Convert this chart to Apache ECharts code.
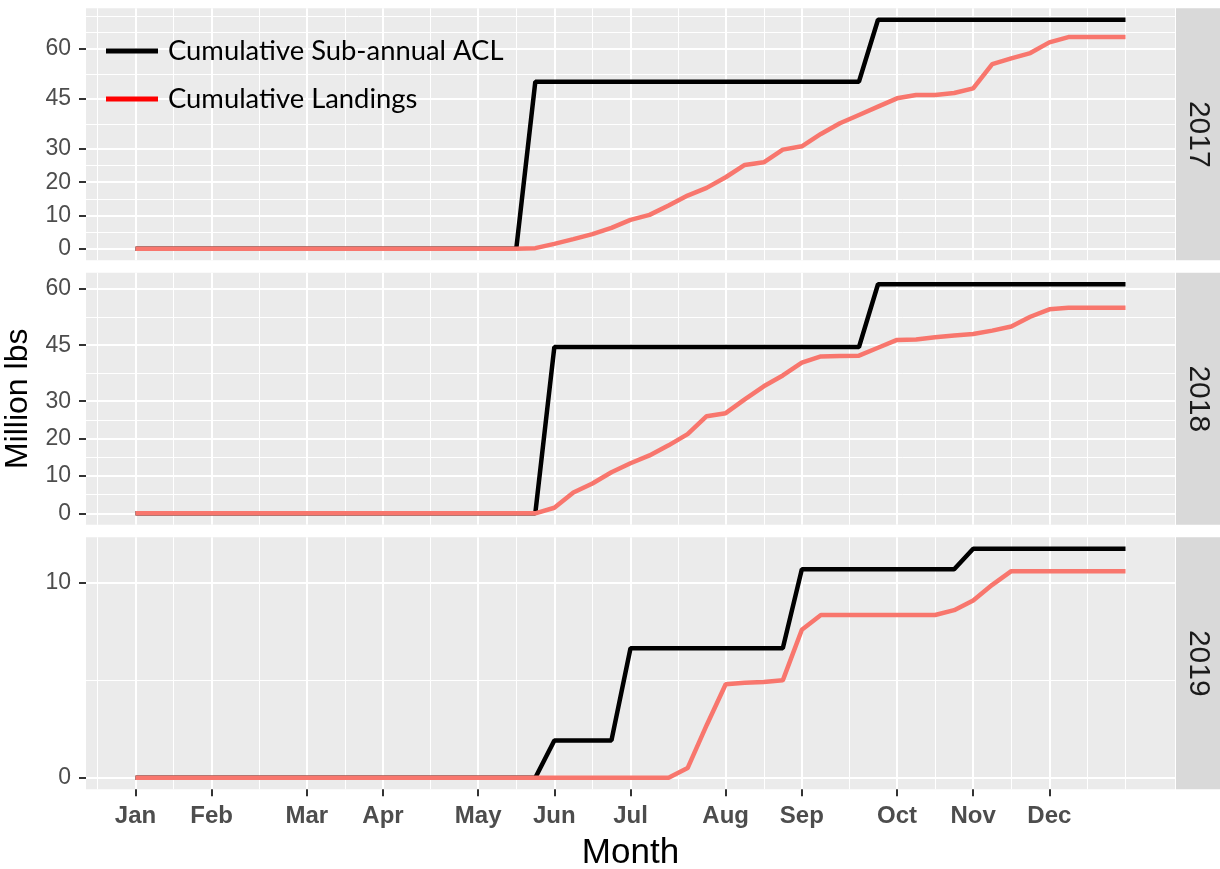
<!DOCTYPE html>
<html>
<head>
<meta charset="utf-8">
<script src="https://cdn.jsdelivr.net/npm/echarts@6/dist/echarts.min.js"></script>
<style>
html,body{margin:0;padding:0;background:#ffffff;}
#chart{width:1220px;height:869px;}
</style>
</head>
<body>
<div id="chart"></div>
<script>
// ---------------- DATA ----------------
const years = ['2017', '2018', '2019'];
const months = ['Jan','Feb','Mar','Apr','May','Jun','Jul','Aug','Sep','Oct','Nov','Dec'];
// week index (0 = first week of January) at which each month label sits
const monthWeeks = [0, 4, 9, 13, 18, 22, 26, 31, 35, 40, 44, 48];
// weekly x positions
const weeks = [0,1,2,3,4,5,6,7,8,9,10,11,12,13,14,15,16,17,18,19,20,21,22,23,24,25,26,
               27,28,29,30,31,32,33,34,35,36,37,38,39,40,41,42,43,44,45,46,47,48,49,50,51,52];

const seriesNames = ['Cumulative Sub-annual ACL', 'Cumulative Landings'];

// Million lbs, one value per week
const acl2017 = [0,0,0,0,0,0,0,0,0,0,0,0,0,0,0,0,0,0,0,0,0,
  50.2,50.2,50.2,50.2,50.2,50.2,50.2,50.2,50.2,50.2,50.2,50.2,50.2,50.2,50.2,50.2,50.2,50.2,
  68.8,68.8,68.8,68.8,68.8,68.8,68.8,68.8,68.8,68.8,68.8,68.8,68.8,68.8];
const landings2017 = [0,0,0,0,0,0,0,0,0,0,0,0,0,0,0,0,0,0,0,0,0,
  0.2,1.5,2.9,4.4,6.3,8.7,10.2,13.0,16.0,18.3,21.5,25.2,26.0,29.8,30.8,34.5,37.7,40.2,
  42.7,45.2,46.2,46.2,46.8,48.2,55.5,57.2,58.8,62.0,63.6,63.6,63.6,63.6];

const acl2018 = [0,0,0,0,0,0,0,0,0,0,0,0,0,0,0,0,0,0,0,0,0,0,
  44.5,44.5,44.5,44.5,44.5,44.5,44.5,44.5,44.5,44.5,44.5,44.5,44.5,44.5,44.5,44.5,44.5,
  61.3,61.3,61.3,61.3,61.3,61.3,61.3,61.3,61.3,61.3,61.3,61.3,61.3,61.3];
const landings2018 = [0,0,0,0,0,0,0,0,0,0,0,0,0,0,0,0,0,0,0,0,0,0,
  1.5,5.6,8.0,11.0,13.4,15.5,18.2,21.2,26.0,26.8,30.5,34.0,36.9,40.3,42.0,42.1,42.2,
  44.3,46.4,46.5,47.1,47.6,48.0,48.9,50.0,52.6,54.6,55.0,55.0,55.0,55.0];

const acl2019 = [0,0,0,0,0,0,0,0,0,0,0,0,0,0,0,0,0,0,0,0,0,0,
  1.92,1.92,1.92,1.92,
  6.65,6.65,6.65,6.65,6.65,6.65,6.65,6.65,6.65,
  10.7,10.7,10.7,10.7,10.7,10.7,10.7,10.7,10.7,
  11.75,11.75,11.75,11.75,11.75,11.75,11.75,11.75,11.75];
const landings2019 = [0,0,0,0,0,0,0,0,0,0,0,0,0,0,0,0,0,0,0,0,0,0,0,0,0,0,0,0,0,
  0.5,2.7,4.8,4.88,4.92,5.0,7.6,8.35,8.35,8.35,8.35,8.35,8.35,8.35,8.6,9.1,9.9,10.6,
  10.6,10.6,10.6,10.6,10.6,10.6];

// y tick labels per panel
const yBreaks2017 = [0, 10, 20, 30, 45, 60];
const yBreaks2018 = [0, 10, 20, 30, 45, 60];
const yBreaks2019 = [0, 10];

const panels = [
  {year: years[0], acl: acl2017, land: landings2017, breaks: yBreaks2017},
  {year: years[1], acl: acl2018, land: landings2018, breaks: yBreaks2018},
  {year: years[2], acl: acl2019, land: landings2019, breaks: yBreaks2019}
];

// ---------------- LAYOUT / STYLE ----------------
const GRID_LEFT = 86, GRID_WIDTH = 1089;
const GRID_TOPS = [8.3, 272.8, 537.3];
const GRID_H = 252;
const STRIP_W = 45;
const PANEL_BG = '#EBEBEB';
const STRIP_BG = '#D9D9D9';
const TICK_COLOR = '#333333';
const LABEL_COLOR = '#4D4D4D';
const FONT = "'Liberation Sans', Arial, sans-serif";

function expand(lo, hi) { const d = hi - lo; return [lo - 0.05 * d, hi + 0.05 * d]; }
function minorBreaks(b, lim) {
  const bb = b.slice();
  const bd = bb[1] - bb[0];
  if (lim[0] < bb[0]) bb.unshift(bb[0] - bd);
  if (lim[1] > bb[bb.length - 1]) bb.push(bb[bb.length - 1] + bd);
  const out = [];
  for (let i = 0; i < bb.length - 1; i++) { out.push(bb[i], (bb[i] + bb[i + 1]) / 2); }
  out.push(bb[bb.length - 1]);
  return out.filter(v => v >= lim[0] && v <= lim[1] && b.indexOf(v) < 0);
}

const xLim = expand(Math.min.apply(null, weeks), Math.max.apply(null, weeks));
const xMinor = minorBreaks(monthWeeks, xLim);

const grid = [], xAxis = [], yAxis = [], series = [], graphic = [];

panels.forEach((p, g) => {
  const all = p.acl.concat(p.land);
  const yLim = expand(Math.min(0, Math.min.apply(null, all)), Math.max.apply(null, all));
  const yMinor = minorBreaks(p.breaks, yLim);
  const isBottom = g === panels.length - 1;

  grid.push({
    left: GRID_LEFT, top: GRID_TOPS[g], width: GRID_WIDTH, height: GRID_H,
    show: true, backgroundColor: PANEL_BG, borderWidth: 0, containLabel: false,
    outerBoundsMode: 'none'
  });

  // major x axis
  xAxis.push({
    type: 'value', gridIndex: g, min: xLim[0], max: xLim[1], position: 'bottom',
    axisLine: {show: false, onZero: false},
    axisTick: {show: isBottom, customValues: monthWeeks, length: 7, lineStyle: {color: TICK_COLOR, width: 2}},
    axisLabel: {show: isBottom, customValues: monthWeeks, margin: 15,
      formatter: v => months[monthWeeks.indexOf(v)],
      color: LABEL_COLOR, fontFamily: FONT, fontWeight: 'bold', fontSize: 24},
    splitLine: {show: true, lineStyle: {color: '#FFFFFF', width: 2}},
    name: isBottom ? 'Month' : '', nameLocation: 'middle', nameGap: 47,
    nameTextStyle: {fontFamily: FONT, fontSize: 35, color: '#000000'}
  });
  // minor x axis (grid lines only)
  xAxis.push({
    type: 'value', gridIndex: g, min: xLim[0], max: xLim[1], position: 'top',
    axisLine: {show: false, onZero: false},
    axisTick: {show: false, customValues: xMinor},
    axisLabel: {show: false, customValues: xMinor},
    splitLine: {show: true, lineStyle: {color: '#FFFFFF', width: 1}}
  });
  // major y axis
  yAxis.push({
    type: 'value', gridIndex: g, min: yLim[0], max: yLim[1], position: 'left',
    axisLine: {show: false, onZero: false},
    axisTick: {show: true, customValues: p.breaks, length: 7, lineStyle: {color: TICK_COLOR, width: 2}},
    axisLabel: {show: true, customValues: p.breaks, margin: 15,
      color: LABEL_COLOR, fontFamily: FONT, fontSize: 23},
    splitLine: {show: true, lineStyle: {color: '#FFFFFF', width: 2}},
    name: g === 1 ? 'Million lbs' : '', nameLocation: 'middle', nameGap: 44, nameRotate: 90,
    nameTextStyle: {fontFamily: FONT, fontSize: 32, color: '#000000'}
  });
  // minor y axis
  yAxis.push({
    type: 'value', gridIndex: g, min: yLim[0], max: yLim[1], position: 'right',
    axisLine: {show: false, onZero: false},
    axisTick: {show: false, customValues: yMinor},
    axisLabel: {show: false, customValues: yMinor},
    splitLine: {show: true, lineStyle: {color: '#FFFFFF', width: 1}}
  });

  series.push({
    name: seriesNames[0], type: 'line', xAxisIndex: 2 * g, yAxisIndex: 2 * g,
    data: weeks.map((w, i) => [w, p.acl[i]]),
    showSymbol: false, symbol: 'none', z: 3,
    lineStyle: {color: '#000000', width: 4.5}, itemStyle: {color: '#000000'}
  });
  series.push({
    name: seriesNames[1], type: 'line', xAxisIndex: 2 * g, yAxisIndex: 2 * g,
    data: weeks.map((w, i) => [w, p.land[i]]),
    showSymbol: false, symbol: 'none', z: 4,
    lineStyle: {color: '#F8766D', width: 4.5}, itemStyle: {color: '#F8766D'}
  });

  // facet strip
  graphic.push({
    type: 'rect', left: GRID_LEFT + GRID_WIDTH + 1, top: GRID_TOPS[g],
    shape: {width: STRIP_W, height: GRID_H}, style: {fill: STRIP_BG}, silent: true
  });
  graphic.push({
    type: 'text', x: GRID_LEFT + GRID_WIDTH + 1 + STRIP_W / 2, y: GRID_TOPS[g] + GRID_H / 2,
    rotation: -Math.PI / 2, silent: true,
    style: {text: p.year, fill: '#1A1A1A', font: "30px 'Liberation Sans', Arial, sans-serif",
      textAlign: 'center', textVerticalAlign: 'middle'}
  });
});

const option = {
  backgroundColor: '#FFFFFF',
  animation: false,
  grid, xAxis, yAxis, series, graphic,
  legend: {
    orient: 'vertical', left: 106, top: 36, padding: 0,
    itemWidth: 52, itemHeight: 5, itemGap: 18, icon: 'rect', selectedMode: false,
    data: [
      {name: seriesNames[0], itemStyle: {color: '#000000'}},
      {name: seriesNames[1], itemStyle: {color: '#FF0000'}}
    ],
    textStyle: {fontFamily: 'Lato, sans-serif', fontSize: 27.4, color: '#000000', lineHeight: 30, padding: [0, 0, 0, 5]}
  }
};

const chart = echarts.init(document.getElementById('chart'), null, {renderer: 'canvas'});
chart.setOption(option);
</script>
</body>
</html>
